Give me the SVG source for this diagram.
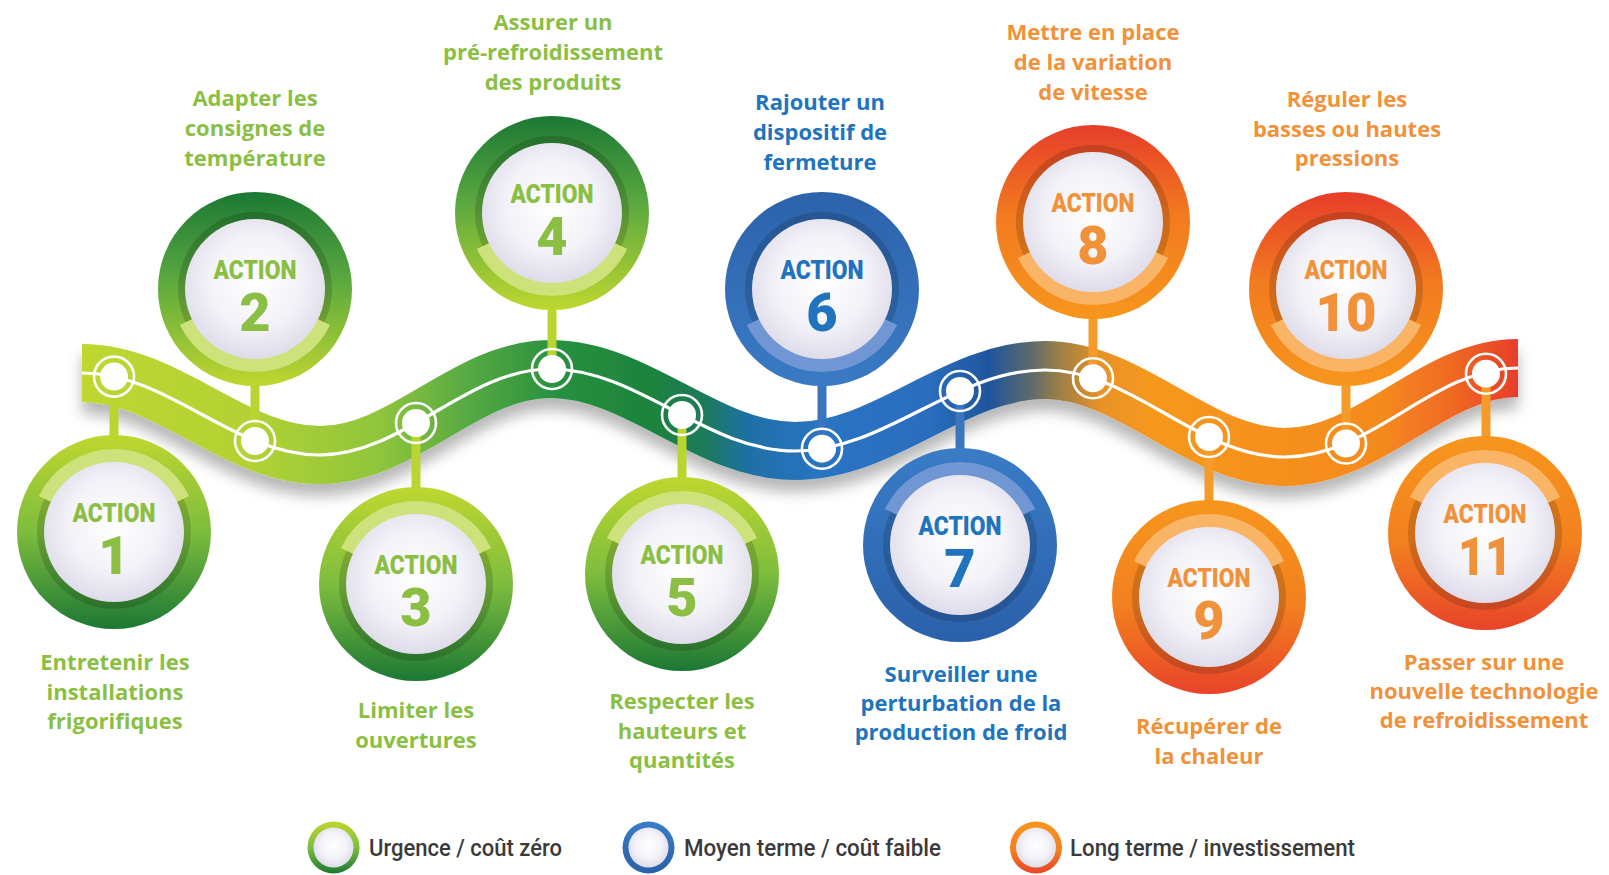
<svg xmlns="http://www.w3.org/2000/svg" width="1609" height="875" viewBox="0 0 1609 875">
<defs>
<style>
.lbl{font-family:"Open Sans","Noto Sans",sans-serif;font-weight:700;font-size:22px;text-anchor:middle}
.act{font-family:Roboto,"Liberation Sans",sans-serif;font-weight:900;font-size:26px;text-anchor:middle}
.num{font-family:Roboto,"Liberation Sans",sans-serif;font-weight:900;font-size:54px;text-anchor:middle}
.leg{font-family:Roboto,"Liberation Sans",sans-serif;font-weight:500;font-size:23px;fill:#3a3a3a}
.tg{fill:#8bbf44}.tb{fill:#1f74bd}.to{fill:#f1923a}
.dark{fill:#000;fill-opacity:.15}
.disk{fill:url(#disk)}
.arc{fill:none;stroke-width:15}
.lg{stroke:#cde27a}.lb{stroke:#7097d4}.lo{stroke:#f9b565}
.stemG{stroke:#b9d532;stroke-width:9}
.stemB{stroke:#3b75c0;stroke-width:9}
.stemO{stroke:#f59b2a;stroke-width:9}
.dot{fill:#fff}
.ring{fill:none;stroke:#fff;stroke-width:2.6}
</style>
<linearGradient id="band" gradientUnits="userSpaceOnUse" x1="82" y1="0" x2="1518" y2="0">
<stop offset="0" stop-color="#bfd72f"/>
<stop offset=".117" stop-color="#b2d234"/>
<stop offset=".2075" stop-color="#8fc53c"/>
<stop offset=".27" stop-color="#55a943"/>
<stop offset=".333" stop-color="#26903f"/>
<stop offset=".3955" stop-color="#1d833c"/>
<stop offset=".434" stop-color="#1a7a5a"/>
<stop offset=".465" stop-color="#1f70a8"/>
<stop offset=".514" stop-color="#2a74c2"/>
<stop offset=".59" stop-color="#2a6dbe"/>
<stop offset=".632" stop-color="#1f559c"/>
<stop offset=".66" stop-color="#5a6a6c"/>
<stop offset=".681" stop-color="#9c7f45"/>
<stop offset=".709" stop-color="#e89226"/>
<stop offset=".744" stop-color="#f6981f"/>
<stop offset=".904" stop-color="#f58a1f"/>
<stop offset=".953" stop-color="#f06a22"/>
<stop offset="1" stop-color="#e73d2a"/>
</linearGradient>
<linearGradient id="gGT" x1="0" y1="0" x2="0" y2="1"><stop offset="0" stop-color="#1c7834"/><stop offset=".45" stop-color="#5aa83f"/><stop offset="1" stop-color="#bfd72f"/></linearGradient>
<linearGradient id="gGB" x1="0" y1="0" x2="0" y2="1"><stop offset="0" stop-color="#bfd72f"/><stop offset=".5" stop-color="#7dbd3d"/><stop offset="1" stop-color="#1c7834"/></linearGradient>
<linearGradient id="gBT" x1="0" y1="0" x2="0" y2="1"><stop offset="0" stop-color="#2c63ab"/><stop offset="1" stop-color="#3a7ac4"/></linearGradient>
<linearGradient id="gBB" x1="0" y1="0" x2="0" y2="1"><stop offset="0" stop-color="#3a7cc6"/><stop offset="1" stop-color="#2a60aa"/></linearGradient>
<linearGradient id="gOT" x1="0" y1="0" x2="0" y2="1"><stop offset="0" stop-color="#e63d2a"/><stop offset=".45" stop-color="#f2791f"/><stop offset="1" stop-color="#f7961d"/></linearGradient>
<linearGradient id="gOB" x1="0" y1="0" x2="0" y2="1"><stop offset="0" stop-color="#f7961d"/><stop offset=".55" stop-color="#f2801f"/><stop offset="1" stop-color="#e8432a"/></linearGradient>
<radialGradient id="disk" cx="50%" cy="45%" r="60%"><stop offset="0" stop-color="#ffffff"/><stop offset=".55" stop-color="#f3f2f8"/><stop offset="1" stop-color="#d9d7e6"/></radialGradient>
<filter id="sh" filterUnits="userSpaceOnUse" x="0" y="280" width="1609" height="260">
<feGaussianBlur in="SourceAlpha" stdDeviation="7"/><feOffset dy="12" result="b"/>
<feFlood flood-color="#000" flood-opacity=".28"/><feComposite in2="b" operator="in"/>
<feMerge><feMergeNode/><feMergeNode in="SourceGraphic"/></feMerge>
</filter>
<path id="arcB" d="M -68.4 32.7 A 76 76 0 0 0 68.4 32.7"/>
<path id="arcT" d="M -68.4 -32.7 A 76 76 0 0 1 68.4 -32.7"/>
</defs>
<rect width="1609" height="875" fill="#fff"/>

<g id="timeline">
<path d="M 82 373 C 168.5 373 233.5 455 320 455 C 403.6 455 466.4 369 550 369 C 639 369 706 451 795 451 C 885.9 451 954.1 370 1045 370 C 1132.2 370 1197.8 457 1285 457 C 1372 457 1432 368 1518 368" fill="none" stroke="url(#band)" stroke-width="58" filter="url(#sh)"/>
<path d="M 82 373 C 168.5 373 233.5 455 320 455 C 403.6 455 466.4 369 550 369 C 639 369 706 451 795 451 C 885.9 451 954.1 370 1045 370 C 1132.2 370 1197.8 457 1285 457 C 1372 457 1432 368 1518 368" fill="none" stroke="#fff" stroke-width="3.2"/>
</g>

<g id="connectors">
<line class="stemG" x1="114" y1="376" x2="114" y2="440"/>
<line class="stemG" x1="255" y1="380" x2="255" y2="441"/>
<line class="stemG" x1="416" y1="423" x2="416" y2="492"/>
<line class="stemG" x1="552" y1="305" x2="552" y2="369"/>
<line class="stemG" x1="682" y1="415" x2="682" y2="482"/>
<line class="stemB" x1="822" y1="380" x2="822" y2="449"/>
<line class="stemB" x1="960" y1="391" x2="960" y2="453"/>
<line class="stemO" x1="1093" y1="313" x2="1093" y2="378"/>
<line class="stemO" x1="1209" y1="437" x2="1209" y2="505"/>
<line class="stemO" x1="1346" y1="380" x2="1346" y2="443"/>
<line class="stemO" x1="1486" y1="374" x2="1486" y2="441"/>
</g>

<g id="timeline-nodes">
<g transform="translate(114,376.6)"><circle class="dot" r="14"/><circle class="ring" r="20"/></g>
<g transform="translate(255,441)"><circle class="dot" r="14"/><circle class="ring" r="20"/></g>
<g transform="translate(416,423)"><circle class="dot" r="14"/><circle class="ring" r="20"/></g>
<g transform="translate(552,369)"><circle class="dot" r="14"/><circle class="ring" r="20"/></g>
<g transform="translate(682,415)"><circle class="dot" r="14"/><circle class="ring" r="20"/></g>
<g transform="translate(822,448.7)"><circle class="dot" r="14"/><circle class="ring" r="20"/></g>
<g transform="translate(960,391)"><circle class="dot" r="14"/><circle class="ring" r="20"/></g>
<g transform="translate(1093,378.3)"><circle class="dot" r="14"/><circle class="ring" r="20"/></g>
<g transform="translate(1209,437)"><circle class="dot" r="14"/><circle class="ring" r="20"/></g>
<g transform="translate(1346,443.5)"><circle class="dot" r="14"/><circle class="ring" r="20"/></g>
<g transform="translate(1486,373.7)"><circle class="dot" r="14"/><circle class="ring" r="20"/></g>
</g>

<g id="action1">
<g transform="translate(114,532)"><circle r="97" fill="url(#gGB)"/><circle class="dark" r="77"/><use href="#arcT" class="arc lg"/><circle class="disk" r="70"/>
<text class="act tg" y="-10" textLength="83" lengthAdjust="spacingAndGlyphs">ACTION</text><text class="num tg" y="42">1</text></g>
<text class="lbl tg" x="115" y="670">Entretenir les</text><text class="lbl tg" x="115" y="700">installations</text><text class="lbl tg" x="115" y="729">frigorifiques</text>
</g>

<g id="action2">
<g transform="translate(255,289)"><circle r="97" fill="url(#gGT)"/><circle class="dark" r="77"/><use href="#arcB" class="arc lg"/><circle class="disk" r="70"/>
<text class="act tg" y="-10" textLength="83" lengthAdjust="spacingAndGlyphs">ACTION</text><text class="num tg" y="42">2</text></g>
<text class="lbl tg" x="255" y="106">Adapter les</text><text class="lbl tg" x="255" y="136">consignes de</text><text class="lbl tg" x="255" y="166">température</text>
</g>

<g id="action3">
<g transform="translate(416,584)"><circle r="97" fill="url(#gGB)"/><circle class="dark" r="77"/><use href="#arcT" class="arc lg"/><circle class="disk" r="70"/>
<text class="act tg" y="-10" textLength="83" lengthAdjust="spacingAndGlyphs">ACTION</text><text class="num tg" y="42">3</text></g>
<text class="lbl tg" x="416" y="718">Limiter les</text><text class="lbl tg" x="416" y="748">ouvertures</text>
</g>

<g id="action4">
<g transform="translate(552,213)"><circle r="97" fill="url(#gGT)"/><circle class="dark" r="77"/><use href="#arcB" class="arc lg"/><circle class="disk" r="70"/>
<text class="act tg" y="-10" textLength="83" lengthAdjust="spacingAndGlyphs">ACTION</text><text class="num tg" y="42">4</text></g>
<text class="lbl tg" x="553" y="30">Assurer un</text><text class="lbl tg" x="553" y="60">pré-refroidissement</text><text class="lbl tg" x="553" y="90">des produits</text>
</g>

<g id="action5">
<g transform="translate(682,574)"><circle r="97" fill="url(#gGB)"/><circle class="dark" r="77"/><use href="#arcT" class="arc lg"/><circle class="disk" r="70"/>
<text class="act tg" y="-10" textLength="83" lengthAdjust="spacingAndGlyphs">ACTION</text><text class="num tg" y="42">5</text></g>
<text class="lbl tg" x="682" y="709">Respecter les</text><text class="lbl tg" x="682" y="739">hauteurs et</text><text class="lbl tg" x="682" y="768">quantités</text>
</g>

<g id="action6">
<g transform="translate(822,289)"><circle r="97" fill="url(#gBT)"/><circle class="dark" r="77"/><use href="#arcB" class="arc lb"/><circle class="disk" r="70"/>
<text class="act tb" y="-10" textLength="83" lengthAdjust="spacingAndGlyphs">ACTION</text><text class="num tb" y="42">6</text></g>
<text class="lbl tb" x="820" y="110">Rajouter un</text><text class="lbl tb" x="820" y="140">dispositif de</text><text class="lbl tb" x="820" y="170">fermeture</text>
</g>

<g id="action7">
<g transform="translate(960,545)"><circle r="97" fill="url(#gBB)"/><circle class="dark" r="77"/><use href="#arcT" class="arc lb"/><circle class="disk" r="70"/>
<text class="act tb" y="-10" textLength="83" lengthAdjust="spacingAndGlyphs">ACTION</text><text class="num tb" y="42">7</text></g>
<text class="lbl tb" x="961" y="682">Surveiller une</text><text class="lbl tb" x="961" y="711">perturbation de la</text><text class="lbl tb" x="961" y="740">production de froid</text>
</g>

<g id="action8">
<g transform="translate(1093,222)"><circle r="97" fill="url(#gOT)"/><circle class="dark" r="77"/><use href="#arcB" class="arc lo"/><circle class="disk" r="70"/>
<text class="act to" y="-10" textLength="83" lengthAdjust="spacingAndGlyphs">ACTION</text><text class="num to" y="42">8</text></g>
<text class="lbl to" x="1093" y="40">Mettre en place</text><text class="lbl to" x="1093" y="70">de la variation</text><text class="lbl to" x="1093" y="100">de vitesse</text>
</g>

<g id="action9">
<g transform="translate(1209,597)"><circle r="97" fill="url(#gOB)"/><circle class="dark" r="77"/><use href="#arcT" class="arc lo"/><circle class="disk" r="70"/>
<text class="act to" y="-10" textLength="83" lengthAdjust="spacingAndGlyphs">ACTION</text><text class="num to" y="42">9</text></g>
<text class="lbl to" x="1209" y="734">Récupérer de</text><text class="lbl to" x="1209" y="764">la chaleur</text>
</g>

<g id="action10">
<g transform="translate(1346,289)"><circle r="97" fill="url(#gOT)"/><circle class="dark" r="77"/><use href="#arcB" class="arc lo"/><circle class="disk" r="70"/>
<text class="act to" y="-10" textLength="83" lengthAdjust="spacingAndGlyphs">ACTION</text><text class="num to" y="42" textLength="61" lengthAdjust="spacingAndGlyphs">10</text></g>
<text class="lbl to" x="1347" y="107">Réguler les</text><text class="lbl to" x="1347" y="137">basses ou hautes</text><text class="lbl to" x="1347" y="166">pressions</text>
</g>

<g id="action11">
<g transform="translate(1485,533)"><circle r="97" fill="url(#gOB)"/><circle class="dark" r="77"/><use href="#arcT" class="arc lo"/><circle class="disk" r="70"/>
<text class="act to" y="-10" textLength="83" lengthAdjust="spacingAndGlyphs">ACTION</text><text class="num to" y="42" textLength="54" lengthAdjust="spacingAndGlyphs">11</text></g>
<text class="lbl to" x="1484" y="670">Passer sur une</text><text class="lbl to" x="1484" y="699">nouvelle technologie</text><text class="lbl to" x="1484" y="728">de refroidissement</text>
</g>

<g id="legend">
<g transform="translate(333.5,847.5)"><circle r="26" fill="url(#gGB)"/><circle r="20" class="disk"/></g>
<text class="leg" x="369" y="856" textLength="193" lengthAdjust="spacingAndGlyphs">Urgence / coût zéro</text>
<g transform="translate(648.5,847.5)"><circle r="26" fill="url(#gBB)"/><circle r="20" class="disk"/></g>
<text class="leg" x="684" y="856" textLength="257" lengthAdjust="spacingAndGlyphs">Moyen terme / coût faible</text>
<g transform="translate(1036,847.5)"><circle r="26" fill="url(#gOB)"/><circle r="20" class="disk"/></g>
<text class="leg" x="1070" y="856" textLength="285" lengthAdjust="spacingAndGlyphs">Long terme / investissement</text>
</g>
</svg>
